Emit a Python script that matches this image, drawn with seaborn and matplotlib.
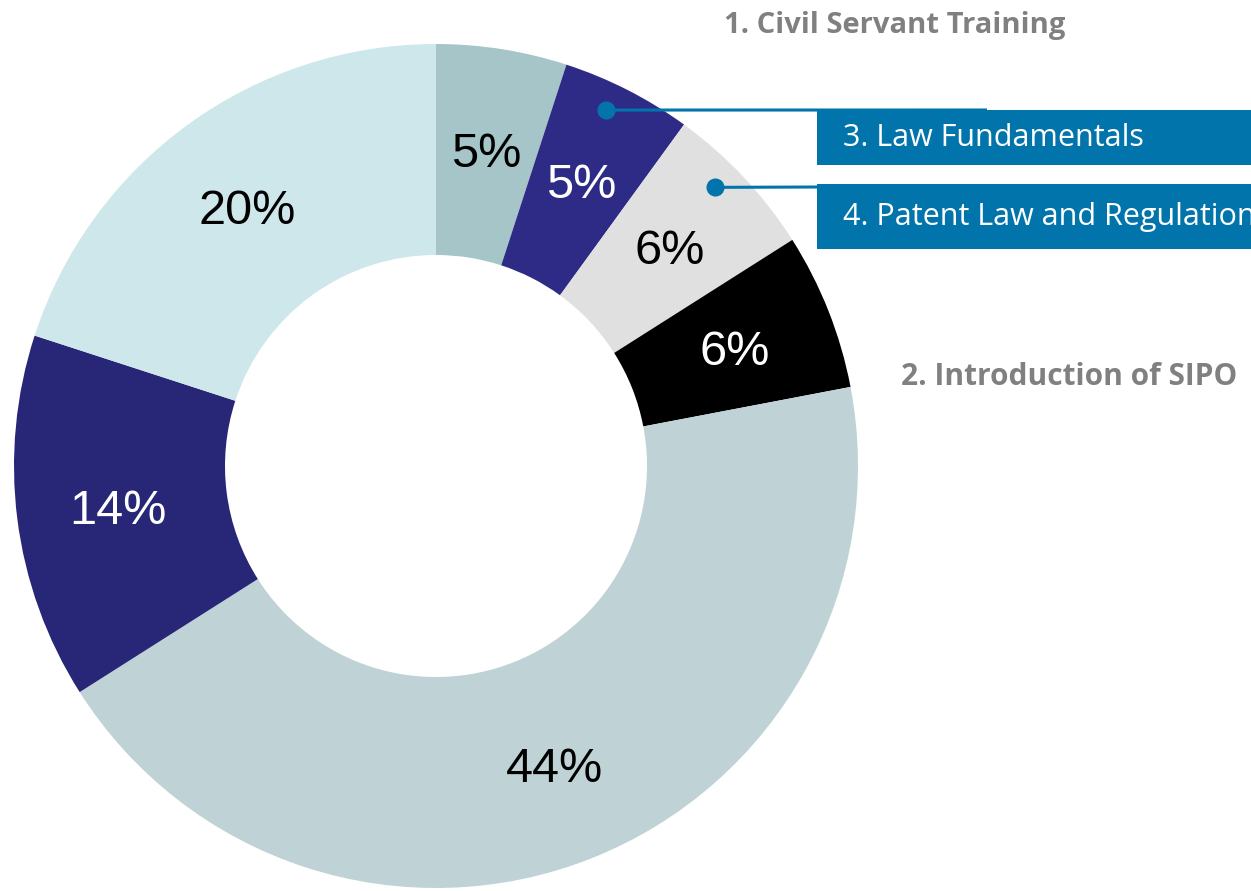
import numpy as np
import matplotlib
matplotlib.use('Agg')
import matplotlib.pyplot as plt
import seaborn as sns
from matplotlib.patches import Rectangle

# ─────────────────────────────────────────────
# data
# ─────────────────────────────────────────────
shares = [5, 5, 6, 6, 44, 14, 20]
slice_colors = ['#A5C5C8', '#2E2B87', '#E0E0E0', '#000000', '#BFD3D6', '#282677', '#CDE7EB']
pct_colors = ['black', 'white', 'black', 'white', 'black', 'white', 'black']

plain_labels = ['1. Civil Servant Training', '2. Introduction of SIPO']
boxed_labels = ['3. Law Fundamentals', '4. Patent Law and Regulation']
boxed_slices = [1, 2]   # which wedge each boxed label points to

sns.set_theme(style='white')
plt.rcParams['font.family'] = ['Liberation Sans', 'DejaVu Sans']

W, H = 1251, 891
fig = plt.figure(figsize=(W / 100, H / 100), dpi=100)

# donut axes: centre (436, 466) px, radius 422 px
cx, cy, R = 436, 466, 422
ax = fig.add_axes([(cx - R) / W, (H - cy - R) / H, 2 * R / W, 2 * R / H])
wedges, _, autotexts = ax.pie(
    shares, colors=slice_colors, startangle=90, counterclock=False,
    radius=1, pctdistance=0.76, autopct=lambda p: f'{p:.0f}%',
    wedgeprops=dict(width=0.5, edgecolor='none'),
    textprops=dict(fontsize=35))
for t, c in zip(autotexts, pct_colors):
    t.set_color(c)
    x, y = t.get_position()
    t.set_position((x, y - 0.012))
ax.set_xlim(-1, 1)
ax.set_ylim(-1, 1)
ax.axis('off')

# overlay in pixel coordinates for the callouts
ov = fig.add_axes([0, 0, 1, 1], zorder=5)
ov.set_xlim(0, W)
ov.set_ylim(H, 0)
ov.axis('off')
ov.patch.set_alpha(0)

blue = '#0274AC'
side_font = ['Open Sans', 'DejaVu Sans']

ov.text(724, 26, plain_labels[0], fontsize=21, fontweight='bold', color='#808080',
        family=side_font, va='center', ha='left')
ov.text(901, 377, plain_labels[1], fontsize=21.5, fontweight='bold', color='#808080',
        family=side_font, va='center', ha='left')

box_tops = [110, 184]
box_heights = [55, 65]
line_end = [(987, 110), (817, 187)]
for lab, idx, top, h, (lx, ly) in zip(boxed_labels, boxed_slices, box_tops, box_heights, line_end):
    w = wedges[idx]
    # dots sit a little before the middle of their wedge, near the outer edge
    ang = np.deg2rad(w.theta2 + 0.42 * (w.theta1 - w.theta2))
    px = cx + 0.935 * R * np.cos(ang)
    py = cy - 0.935 * R * np.sin(ang)
    ov.add_patch(Rectangle((817, top), W - 817, h, facecolor=blue, edgecolor='none'))
    ov.plot([px, lx], [py, ly], color=blue, lw=2.2, solid_capstyle='butt')
    ov.plot(px, py, 'o', color=blue, ms=12)
    ov.text(843, top + h / 2 + 1, lab, fontsize=22, color='white',
            family=side_font, va='center', ha='left')

fig.savefig('out.png', dpi=100)
